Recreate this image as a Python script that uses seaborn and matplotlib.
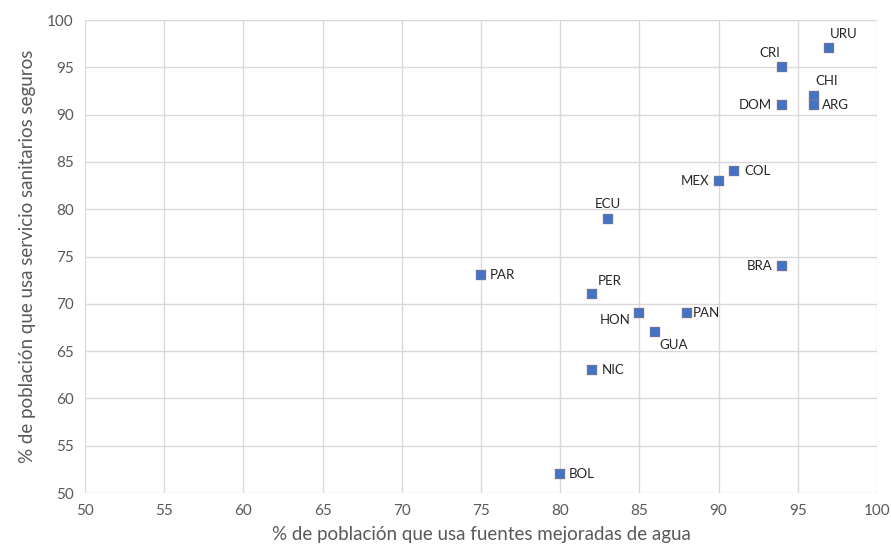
import matplotlib
matplotlib.use("Agg")
import matplotlib.pyplot as plt
import seaborn as sns
import pandas as pd

paises = ["URU", "CRI", "CHI", "ARG", "DOM", "COL", "MEX", "ECU",
          "BRA", "PAR", "PER", "HON", "PAN", "GUA", "NIC", "BOL"]
agua = [97, 94, 96, 96, 94, 91, 90, 83, 94, 75, 82, 85, 88, 86, 82, 80]
saneamiento = [97, 95, 92, 91, 91, 84, 83, 79, 74, 73, 71, 69, 69, 67, 63, 52]
xticks = [50, 55, 60, 65, 70, 75, 80, 85, 90, 95, 100]
yticks = [50, 55, 60, 65, 70, 75, 80, 85, 90, 95, 100]

# label offsets (points) and alignment
offsets = {
    "URU": (0, 6, "left", "bottom"),
    "CRI": (-1, 6, "right", "bottom"),
    "CHI": (1, 6, "left", "bottom"),
    "ARG": (6, 0, "left", "center"),
    "DOM": (-7, 0, "right", "center"),
    "COL": (7, 0, "left", "center"),
    "MEX": (-7, 0, "right", "center"),
    "ECU": (0, 6, "center", "bottom"),
    "BRA": (-7, 0, "right", "center"),
    "PAR": (6, 0, "left", "center"),
    "PER": (4, 5, "left", "bottom"),
    "HON": (-6, -5, "right", "center"),
    "PAN": (4, 0, "left", "center"),
    "GUA": (3, -5, "left", "top"),
    "NIC": (7, 0, "left", "center"),
    "BOL": (6, 0, "left", "center"),
}

df = pd.DataFrame({"pais": paises, "agua": agua, "san": saneamiento})

sns.set_theme(style="white")
plt.rcParams["font.family"] = ["Lato", "DejaVu Sans"]

fig = plt.figure(figsize=(8.91, 5.56), dpi=100)
ax = fig.add_axes([0.0954, 0.1133, 0.8889, 0.8507])

sns.scatterplot(data=df, x="agua", y="san", marker="s", s=48,
                color="#4472C4", edgecolor="#C9855A", linewidth=0.3,
                ax=ax, zorder=3, legend=False)

for p, xv, yv in zip(paises, agua, saneamiento):
    dx, dy, ha, va = offsets[p]
    ax.annotate(p, (xv, yv), xytext=(dx, dy), textcoords="offset points",
                ha=ha, va=va, fontsize=9.5, color="#262626")

ax.set_xlim(50, 100)
ax.set_ylim(50, 100)
ax.set_xticks(xticks)
ax.set_yticks(yticks)
ax.grid(True, color="#D9D9D9", linewidth=1)
ax.set_axisbelow(True)
for s in ax.spines.values():
    s.set_visible(False)
ax.tick_params(axis="both", length=0, labelsize=11, labelcolor="#595959", pad=8)
ax.set_xlabel("% de población que usa fuentes mejoradas de agua",
              fontsize=13.5, color="#595959", labelpad=6)
ax.set_ylabel("% de población que usa servicio sanitarios seguros",
              fontsize=13.5, color="#595959", labelpad=8)

fig.savefig("out.png", dpi=100)
